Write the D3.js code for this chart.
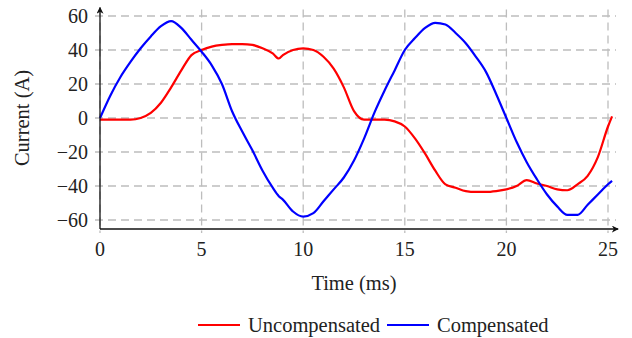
<!DOCTYPE html>
<meta charset="utf-8">
<title>Current vs time</title>
<style type="text/css">
	body { margin: 0; background: #fff; }
	text { font-family: "Liberation Serif", "DejaVu Serif", serif; fill: #222; }
	.grid line { stroke: #bdbdbd; stroke-width: 1.3px; stroke-dasharray: 8,5; }
	.curve { fill: none; stroke-width: 2.2px; stroke-linejoin: round; }
</style>
<body>
<script src="https://d3js.org/d3.v7.min.js"></script>
<script type="text/javascript">
	// time samples (ms)
	const times = [0,0.5,1,1.5,2,2.5,3,3.5,4,4.5,5,5.5,6,6.5,7,7.5,8,8.5,8.8,9,9.5,10,10.5,11,11.5,12,12.5,13,13.5,14,14.5,15,15.5,16,16.5,17,17.5,18,18.5,19,19.5,20,20.5,21,21.5,22,22.5,23,23.5,24,24.5,25,25.2];
	const uncompensated = [-1,-1,-1,-1,0,3,9,18,28,37,40,42,43,43.5,43.5,43,41,38,35,37,40,41,40,36,29,18,4,-1,-1,-1,-2,-5,-12,-21,-31,-39,-41,-43,-43.5,-43.5,-43,-42,-40,-36.5,-38.5,-40,-42,-42.5,-39,-34,-23,-5,1];
	const compensated = [0,13,24,33,41,48,54,57,53,46,39,31,20,4,-8,-19,-31,-41,-46,-48,-55,-58,-56,-49,-42,-35,-25,-12,3,16,28,40,47,53,56,55,50,44,36,27,14,0,-14,-26,-36,-45,-52,-57,-57,-51,-45,-39,-37];
	const xTicks = [0,5,10,15,20,25];
	const yTicks = [-60,-40,-20,0,20,40,60];
	const seriesNames = ["Uncompensated", "Compensated"];
	const seriesColors = ["#ff0000", "#0000ff"];

	const W = 632, H = 338;
	const svg = d3.select('body').append('svg').attr('width', W).attr('height', H);

	const x = d3.scaleLinear().domain([0, 25]).range([100, 608]);
	const y = d3.scaleLinear().domain([-60, 60]).range([220, 16]);
	const yBottom = y(-65.3), yTop = y(63.8), xRight = x(25.3);

	svg.append('defs').append('marker')
		.attr('id', 'arrow').attr('viewBox', '0 0 10 10')
		.attr('refX', 9).attr('refY', 5)
		.attr('markerWidth', 7).attr('markerHeight', 7)
		.attr('markerUnits', 'userSpaceOnUse')
		.attr('orient', 'auto')
		.append('path').attr('d', 'M0,0 L10,5 L0,10 L3,5 Z').attr('fill', '#111');

	// grid
	const grid = svg.append('g').attr('class', 'grid');
	grid.selectAll('.hy').data(yTicks).enter().append('line')
		.attr('x1', 95).attr('x2', 616)
		.attr('y1', d => y(d)).attr('y2', d => y(d));
	grid.selectAll('.vx').data(xTicks).enter().append('line')
		.attr('x1', d => x(d)).attr('x2', d => x(d))
		.attr('y1', yTop).attr('y2', yBottom + 4);

	// tick labels
	svg.selectAll('.ylab').data(yTicks).enter().append('text')
		.attr('x', 88).attr('y', d => y(d)).attr('dy', '0.35em')
		.attr('text-anchor', 'end').style('font-size', '20px')
		.text(d => d3.format('d')(d));
	svg.selectAll('.xlab').data(xTicks).enter().append('text')
		.attr('x', d => x(d)).attr('y', 256)
		.attr('text-anchor', 'middle').style('font-size', '20px')
		.text(d => d);

	// curves
	const series = [uncompensated, compensated];
	const line = d3.line()
		.x((d, i) => x(times[i]))
		.y(d => y(d))
		.curve(d3.curveMonotoneX);
	series.forEach((s, k) => {
		svg.append('path').attr('class', 'curve')
			.attr('stroke', seriesColors[k])
			.attr('d', line(s));
	});

	// axes with arrows
	svg.append('line').attr('x1', x(0)).attr('x2', x(0))
		.attr('y1', yBottom).attr('y2', yTop - 2)
		.attr('stroke', '#111').attr('stroke-width', 1.3).attr('marker-end', 'url(#arrow)');
	svg.append('line').attr('x1', x(0)).attr('x2', xRight + 4)
		.attr('y1', yBottom).attr('y2', yBottom)
		.attr('stroke', '#111').attr('stroke-width', 1.3).attr('marker-end', 'url(#arrow)');

	// axis titles
	svg.append('text').attr('x', x(12.5)).attr('y', 290)
		.attr('text-anchor', 'middle').style('font-size', '20.5px').text('Time (ms)');
	svg.append('text')
		.attr('transform', `translate(29, ${y(0)}) rotate(-90)`)
		.attr('text-anchor', 'middle').style('font-size', '20.5px').text('Current (A)');

	// legend
	const legendX = [198, 387];
	const leg = svg.append('g');
	seriesNames.forEach((n, k) => {
		leg.append('line').attr('x1', legendX[k]).attr('x2', legendX[k] + 42)
			.attr('y1', 325).attr('y2', 325)
			.attr('stroke', seriesColors[k]).attr('stroke-width', 2.2);
		leg.append('text').attr('x', legendX[k] + 50).attr('y', 332)
			.style('font-size', '20.5px').text(n);
	});
</script>
</body>
